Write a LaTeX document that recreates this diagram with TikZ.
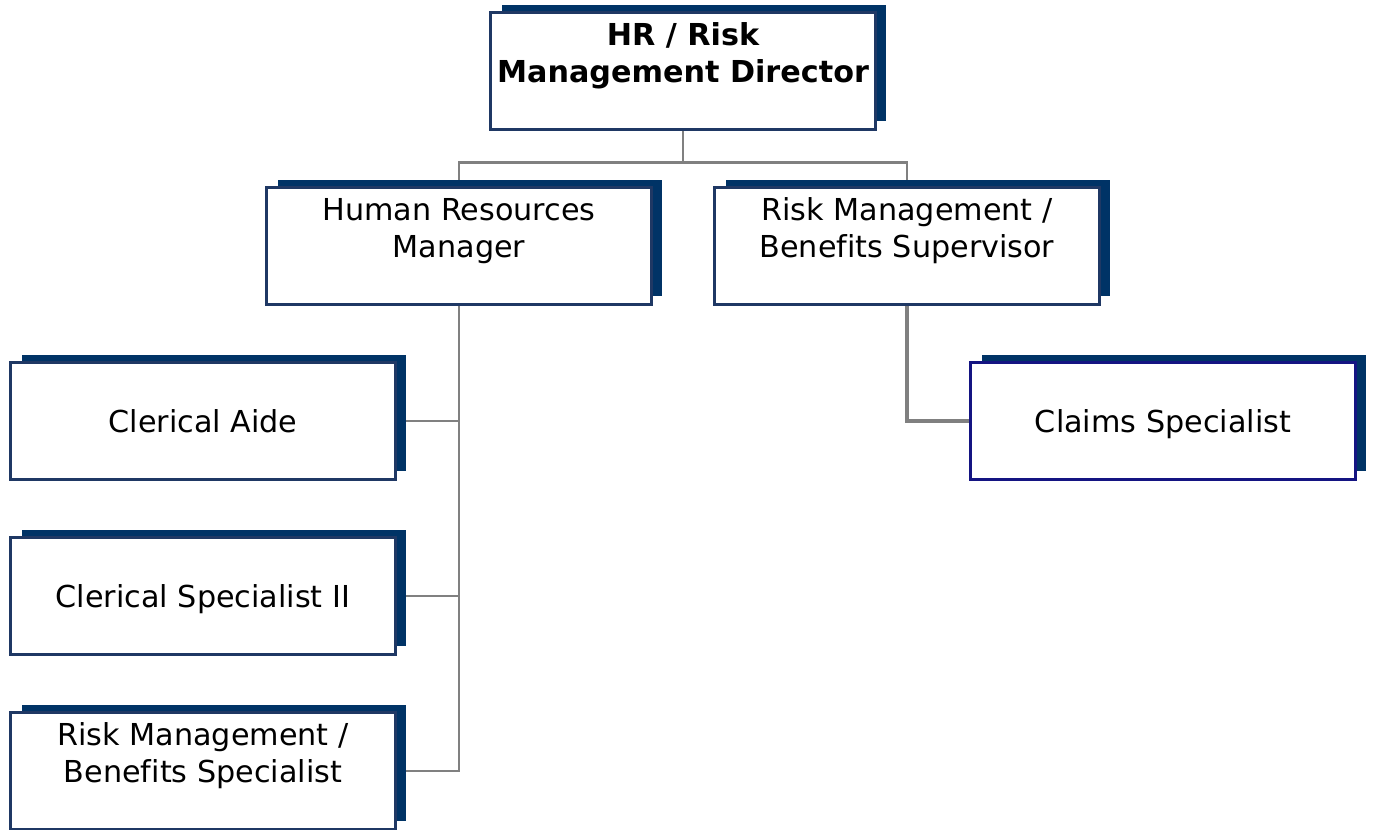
\documentclass[tikz,border=0pt]{standalone}
\usepackage{fontspec}
\setmainfont[Ligatures=NoCommon]{DejaVu Sans}
\usetikzlibrary{shadows,backgrounds}
\definecolor{navy}{RGB}{0,51,102}
\definecolor{boxline}{RGB}{31,56,100}
\definecolor{claimline}{RGB}{20,20,130}
\definecolor{conngray}{RGB}{128,128,128}
\newcommand\tstrut{\rule[-4pt]{0pt}{21pt}}
\tikzset{
  post/.style={draw=boxline, line width=1.2pt, fill=white, align=center,
    minimum width=7.7cm, minimum height=2.34cm, inner sep=0pt,
    font=\fontsize{17.2}{21}\selectfont,
    general shadow={fill=navy, shadow xshift=0.22cm, shadow yshift=0.16cm}},
  conn/.style={draw=conngray, line width=1.4pt}
}
\begin{document}
\begin{tikzpicture}[x=0.02cm, y=-0.02cm]
    \useasboundingbox (0,0) rectangle (1373,830);
    % top
    \node[post, font=\fontsize{17.2}{21}\selectfont\bfseries] (dir) at (683,71) {HR / Risk\tstrut\\Management Director\tstrut\\\tstrut};
    \node[post] (hr) at (459,246) {Human Resources\tstrut\\Manager\tstrut\\\tstrut};
    \node[post] (sup) at (907,246) {Risk Management /\tstrut\\Benefits Supervisor\tstrut\\\tstrut};
    % left column
    \node[post] (aide) at (203,421) {Clerical Aide\tstrut};
    \node[post] (cler) at (203,596) {Clerical Specialist II\tstrut};
    \node[post] (rmspec) at (203,771) {Risk Management /\tstrut\\Benefits Specialist\tstrut\\\tstrut};
    % right
    \node[post, draw=claimline] (claims) at (1163,421) {Claims Specialist\tstrut};
    \begin{scope}[on background layer]
        \draw[conn] (dir.south) -- ++(0,32) -| (hr.north);
        \draw[conn] (dir.south) -- ++(0,32) -| (sup.north);
        \draw[conn] (hr.south) |- (aide.east);
        \draw[conn] (hr.south) |- (cler.east);
        \draw[conn] (hr.south) |- (rmspec.east);
        \draw[conn, line width=2.2pt] (sup.south) |- (claims.west);
    \end{scope}
\end{tikzpicture}
\end{document}
